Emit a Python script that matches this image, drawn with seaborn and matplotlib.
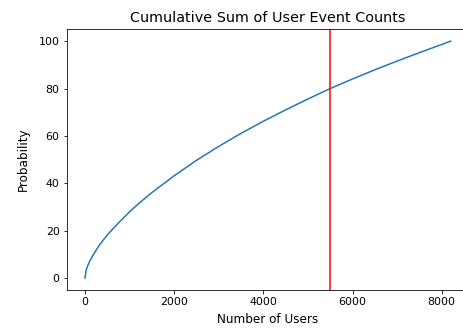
import matplotlib
matplotlib.use("Agg")
import matplotlib.pyplot as plt
import seaborn as sns
import pandas as pd

# Values
users = [0, 25, 60, 112, 200, 336, 500, 750, 1000, 1250, 1500, 2000, 2500, 3000,
         3500, 4000, 4500, 5000, 5500, 6000, 6500, 7000, 7500, 8000, 8202]
prob = [0, 3.2, 5.2, 7.4, 10.3, 14.3, 18.2, 23.3, 28.0, 32.2, 36.1, 43.2, 49.7, 55.6,
        61.1, 66.2, 71.0, 75.6, 80.0, 84.05, 87.9, 91.6, 95.15, 98.6, 100]
cutoff_users = 5500

df = pd.DataFrame({"users": users, "prob": prob})

fig = plt.figure(figsize=(463 / 72, 329 / 72), dpi=72)
ax = fig.add_axes([66.7 / 463, 1 - 290 / 329, (469 - 66.7) / 463, (290 - 29.3) / 329])
sns.lineplot(data=df, x="users", y="prob", ax=ax, color="#1f77b4", linewidth=1.5)
ax.axvline(cutoff_users, color="red", linewidth=1.5)
ax.set_title("Cumulative Sum of User Event Counts", fontsize=14.4, pad=7)
ax.set_xlabel("Number of Users", fontsize=12, labelpad=6)
ax.set_ylabel("Probability", fontsize=12, labelpad=9)
ax.set_xticks([0, 2000, 4000, 6000, 8000])
ax.set_yticks([0, 20, 40, 60, 80, 100])
ax.tick_params(labelsize=11)
fig.savefig("out.png", dpi=72)
